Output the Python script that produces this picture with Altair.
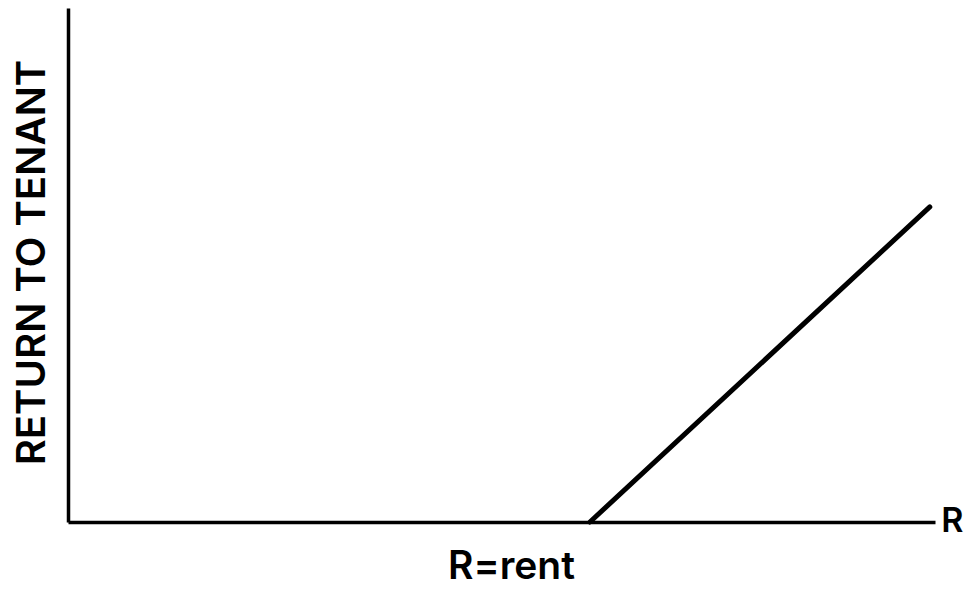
import altair as alt
import pandas as pd

# Data
line_x = [60.2, 99.4]
line_y = [0, 61.3]
label_text = ["R"]
label_x = [102]
label_y = [0]

line_df = pd.DataFrame({"x": line_x, "y": line_y})
label_df = pd.DataFrame({"x": label_x, "y": label_y, "t": label_text})

FONT = "Inter"

xs = alt.Scale(domain=[0, 100], nice=False, zero=False)
ys = alt.Scale(domain=[0, 100], nice=False, zero=False)

x_axis = alt.Axis(
    title="R=rent", ticks=False, labels=False, grid=False,
    domainColor="black", domainWidth=3.5,
    titleFont=FONT, titleFontSize=39, titleFontWeight=600, titleColor="black",
    titleX=443, titleY=44, titleAlign="center", titleBaseline="middle",
)
y_axis = alt.Axis(
    title="RETURN TO TENANT", ticks=False, labels=False, grid=False,
    domainColor="black", domainWidth=3.5,
    titleFont=FONT, titleFontSize=40, titleFontWeight=600, titleColor="black",
    titleX=-36, titleY=254, titleAngle=270, titleAlign="center", titleBaseline="middle",
)

line = alt.Chart(line_df).mark_line(color="black", strokeWidth=5, strokeCap="round").encode(
    x=alt.X("x:Q", scale=xs, axis=x_axis),
    y=alt.Y("y:Q", scale=ys, axis=y_axis),
)

label = alt.Chart(label_df).mark_text(
    font=FONT, fontSize=34, fontWeight=600, color="black",
    align="center", baseline="middle",
).encode(
    x=alt.X("x:Q", scale=xs),
    y=alt.Y("y:Q", scale=ys),
    text="t:N",
)

chart = alt.layer(line, label).properties(
    width=867, height=514,
    autosize=alt.AutoSizeParams(type="none"),
    padding={"left": 60, "top": 0, "right": 33, "bottom": 70},
).configure(background="white", view=alt.ViewConfig(stroke=None))

chart.save("out.html", embed_options={"renderer": "svg", "actions": False})
